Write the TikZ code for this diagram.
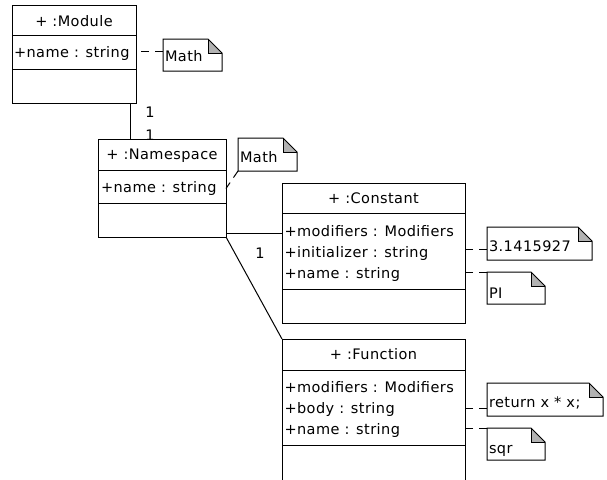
\documentclass[tikz,border=0pt]{standalone}
\usepackage{fontspec}
\setmainfont{DejaVu Sans}[LetterSpace=3]
\usetikzlibrary{calc}
\begin{document}
\begin{tikzpicture}[x=1pt,y=-1pt,
  every node/.style={inner sep=0pt, outer sep=0pt, font=\fontsize{14.5}{16}\selectfont},
  compart/.style={draw, line width=1pt, anchor=north west, minimum width=#1},
  lbl/.style={anchor=base west},
  ttl/.style={anchor=base},
  notebox/.style={anchor=north west},
  notelink/.style={line width=1pt, dash pattern=on 8pt off 6pt},
  assoc/.style={line width=1pt},
  foldgray/.style={fill=black!30}
]
\useasboundingbox (0,0) rectangle (607,479);
\clip (0,0) rectangle (607,479);

% ---- Module ----
\node[compart=124, minimum height=30] (modhead) at (12,5) {};
\node[compart=124, minimum height=34] (modattr) at (12,35) {};
\node[compart=124, minimum height=34] (modops)  at (12,69) {};
\node[ttl] (modt) at (74,26) {+ :Module};
\node[lbl] (moda1) at (14,57) {+name : string};

% ---- Namespace ----
\node[compart=128, minimum height=31] (nshead) at (98,139) {};
\node[compart=128, minimum height=33] (nsattr) at (98,170) {};
\node[compart=128, minimum height=34] (nsops)  at (98,203) {};
\node[ttl] (nst) at (162,159) {+ :Namespace};
\node[lbl] (nsa1) at (101,192) {+name : string};

% ---- Constant ----
\node[compart=183, minimum height=30] (chead) at (282,183) {};
\node[compart=183, minimum height=76] (cattr) at (282,213) {};
\node[compart=183, minimum height=34] (cops)  at (282,289) {};
\node[ttl] (ct) at (373.5,203) {+ :Constant};
\node[lbl] (ca1) at (284.5,236) {+modifiers : Modifiers};
\node[lbl] (ca2) at (284.5,257) {+initializer : string};
\node[lbl] (ca3) at (284.5,278) {+name : string};

% ---- Function ----
\node[compart=183, minimum height=31] (fhead) at (282,339) {};
\node[compart=183, minimum height=75] (fattr) at (282,370) {};
\node[compart=183, minimum height=50] (fops)  at (282,445) {};
\node[ttl] (ft) at (373.5,359) {+ :Function};
\node[lbl] (fa1) at (284.5,392) {+modifiers : Modifiers};
\node[lbl] (fa2) at (284.5,413) {+body : string};
\node[lbl] (fa3) at (284.5,434) {+name : string};

% ---- Notes ----
\node[notebox, minimum width=59,  minimum height=32] (n1) at (163,39)  {};
\node[notebox, minimum width=59,  minimum height=33] (n2) at (238,138) {};
\node[notebox, minimum width=105, minimum height=33] (n3) at (487,227) {};
\node[notebox, minimum width=58,  minimum height=32] (n4) at (487,272) {};
\node[notebox, minimum width=116, minimum height=33] (n5) at (487,383) {};
\node[notebox, minimum width=58,  minimum height=32] (n6) at (487,428) {};

\foreach \n in {n1,n2,n3,n4,n5,n6}{
  \fill[foldgray] ([xshift=-14pt]\n.north east) -- ([xshift=-14pt,yshift=-14pt]\n.north east)
      -- ([yshift=-14pt]\n.north east) -- cycle;
  \draw[line width=1pt, line join=miter] (\n.north west) -- ([xshift=-14pt]\n.north east)
      -- ([yshift=-14pt]\n.north east) -- (\n.south east) -- (\n.south west) -- cycle;
  \draw[line width=1pt] ([xshift=-14pt]\n.north east) -- ([xshift=-14pt,yshift=-14pt]\n.north east)
      -- ([yshift=-14pt]\n.north east);
}
\node[lbl] (n1t) at (165,61)  {Math};
\node[lbl] (n2t) at (240,162) {Math};
\node[lbl] (n3t) at (489,251) {3.1415927};
\node[lbl] (n4t) at (489,298) {PI};
\node[lbl] (n5t) at (489,407) {return x * x;};
\node[lbl] (n6t) at (489,453) {sqr};

% ---- Note links ----
\coordinate (l1) at ([yshift=-12pt]n1.north west);
\draw[notelink] (l1) -- (l1 -| modattr.east);
\draw[notelink] (n2.south west) -- ([yshift=-2pt]nsattr.east);
\coordinate (l3) at ([yshift=11pt]n3.south west);
\draw[notelink] (l3) -- (l3 -| cattr.east);
\draw[notelink] (n4.north west) -- (n4.north west -| cattr.east);
\coordinate (l5) at ([yshift=8pt]n5.south west);
\draw[notelink] (l5) -- (l5 -| fattr.east);
\draw[notelink] (n6.north west) -- (n6.north west -| fattr.east);

% ---- Associations ----
\coordinate (mn) at ([xshift=32pt]nshead.north west);
\draw[assoc] (mn) -- (mn |- modops.south);
\node[ttl] (m1) at (150,117) {1};
\node[ttl] (m2) at (150,140) {1};

\coordinate (nc) at ([yshift=4pt]nsops.south east);
\draw[assoc] (nc) -- (nc -| cattr.west);
\node[ttl] (c1) at (260,258) {1};

\draw[assoc] (nsops.south east) -- (fhead.north west);
\end{tikzpicture}
\end{document}
